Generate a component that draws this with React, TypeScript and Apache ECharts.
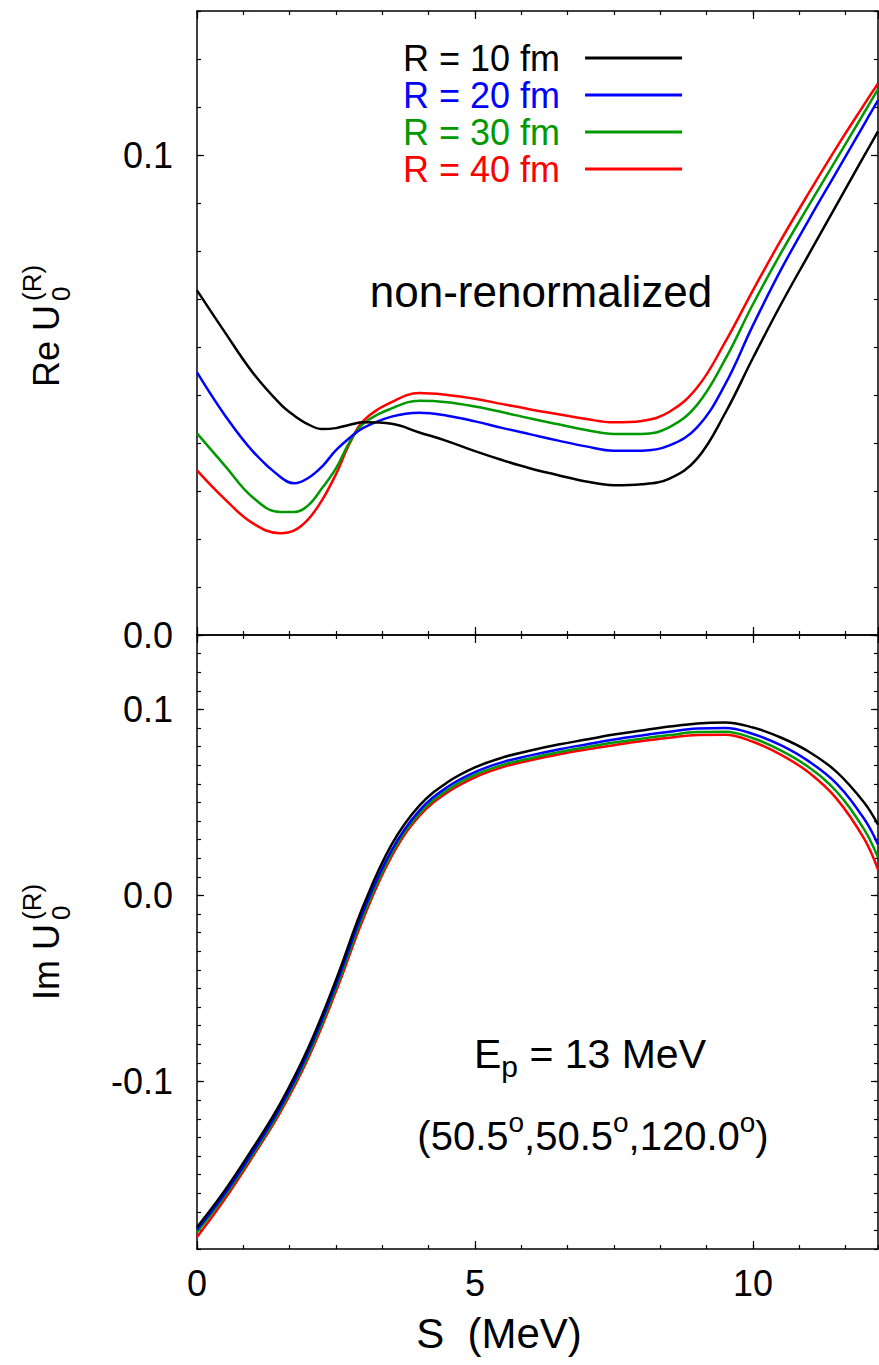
import React, { useEffect, useRef } from 'react';
import * as echarts from 'echarts';

const FONT = '"Liberation Sans", Arial, Helvetica, sans-serif';

// S (MeV) grid for the upper panel (Re U)
const S_RE = [0, 0.5, 1, 1.5, 1.75, 2, 2.25, 2.5, 2.75, 3, 3.5, 4, 4.5, 5, 5.5, 6, 6.5, 7, 7.5, 8, 8.5, 9, 9.5, 10, 10.5, 11, 11.5, 12, 12.25];
const RE_R10 = [0.0718, 0.0631, 0.0547, 0.0481, 0.0457, 0.0439, 0.0429, 0.0431, 0.0438, 0.0443, 0.0440, 0.0422, 0.0404, 0.0383, 0.0364, 0.0347, 0.0333, 0.0320, 0.0312, 0.0314, 0.0326, 0.0368, 0.0462, 0.0577, 0.0688, 0.0792, 0.0895, 0.0998, 0.1049];
const RE_R20 = [0.0547, 0.0458, 0.0383, 0.0329, 0.0316, 0.0327, 0.0351, 0.0385, 0.0411, 0.0432, 0.0455, 0.0463, 0.0457, 0.0445, 0.0431, 0.0418, 0.0405, 0.0393, 0.0384, 0.0384, 0.0395, 0.0433, 0.0522, 0.0645, 0.0760, 0.0864, 0.0964, 0.1064, 0.1114];
const RE_R30 = [0.0420, 0.0353, 0.0287, 0.0256, 0.0256, 0.0270, 0.0306, 0.0347, 0.0403, 0.0441, 0.0472, 0.0488, 0.0485, 0.0476, 0.0464, 0.0451, 0.0439, 0.0427, 0.0419, 0.0419, 0.0433, 0.0480, 0.0574, 0.0689, 0.0795, 0.0894, 0.0991, 0.1088, 0.1137];
const RE_R40 = [0.0343, 0.0283, 0.0233, 0.0212, 0.0218, 0.0241, 0.0281, 0.0335, 0.0400, 0.0447, 0.0485, 0.0504, 0.0500, 0.0492, 0.0481, 0.0470, 0.0460, 0.0450, 0.0443, 0.0446, 0.0465, 0.0516, 0.0610, 0.0718, 0.0822, 0.0920, 0.1015, 0.1105, 0.1149];

// S (MeV) grid for the lower panel (Im U)
const S_IM = [0, 0.5, 1, 1.5, 2, 2.5, 3, 3.5, 4, 4.5, 5, 5.5, 6, 6.5, 7, 7.5, 8, 8.5, 9, 9.5, 10, 10.5, 11, 11.5, 12, 12.25];
const IM_R10 = [-0.1783, -0.1585, -0.1360, -0.1117, -0.0820, -0.0454, -0.0050, 0.0273, 0.0483, 0.0607, 0.0688, 0.0742, 0.0779, 0.0811, 0.0838, 0.0865, 0.0887, 0.0908, 0.0925, 0.0930, 0.0903, 0.0849, 0.0774, 0.0666, 0.0500, 0.0381];
const IM_R20 = [-0.1795, -0.1603, -0.1380, -0.1137, -0.0842, -0.0478, -0.0078, 0.0243, 0.0456, 0.0582, 0.0663, 0.0717, 0.0753, 0.0785, 0.0812, 0.0838, 0.0860, 0.0880, 0.0897, 0.0900, 0.0868, 0.0808, 0.0722, 0.0602, 0.0412, 0.0274];
const IM_R30 = [-0.1810, -0.1615, -0.1393, -0.1152, -0.0860, -0.0498, -0.0100, 0.0225, 0.0440, 0.0566, 0.0648, 0.0702, 0.0738, 0.0770, 0.0797, 0.0822, 0.0843, 0.0862, 0.0878, 0.0880, 0.0845, 0.0780, 0.0690, 0.0560, 0.0355, 0.0204];
const IM_R40 = [-0.1836, -0.1632, -0.1405, -0.1165, -0.0875, -0.0515, -0.0118, 0.0210, 0.0427, 0.0553, 0.0635, 0.0690, 0.0727, 0.0758, 0.0784, 0.0808, 0.0830, 0.0848, 0.0863, 0.0864, 0.0826, 0.0757, 0.0662, 0.0522, 0.0305, 0.0139];

const SERIES_NAMES = ['R = 10 fm', 'R = 20 fm', 'R = 30 fm', 'R = 40 fm'];
const SERIES_COLORS = ['#000000', '#0000ff', '#009900', '#ff0000'];
const RE_SETS = [RE_R10, RE_R20, RE_R30, RE_R40];
const IM_SETS = [IM_R10, IM_R20, IM_R30, IM_R40];

const X_MIN = 0;
const X_MAX = 12.25;
const X_MAJOR = 5;
const X_MINOR = 5 / 6;
const RE_MIN = 0;
const RE_MAX = 0.13;
const IM_MIN = -0.19;
const IM_MAX = 0.14;
const Y_MINOR = 0.01;
const RE_LABELS = [0, 0.1];
const IM_LABELS = [-0.1, 0, 0.1];

const AXIS_COLOR = '#000';

function xAxisPair(gridIndex: number, position: 'top' | 'bottom', labels: boolean) {
  const major = {
    type: 'value', gridIndex, position, min: X_MIN, max: X_MAX, interval: X_MAJOR,
    axisLine: { show: true, onZero: false, lineStyle: { color: AXIS_COLOR, width: 1.5 } },
    axisTick: { show: true, inside: true, length: 8, lineStyle: { color: AXIS_COLOR, width: 1.2 } },
    axisLabel: {
      show: labels, showMaxLabel: false, margin: 16, color: '#000', fontSize: 36, fontFamily: FONT,
      formatter: (v: number) => String(Math.round(v)),
    },
    splitLine: { show: false },
  };
  const minor = {
    type: 'value', gridIndex, position, min: X_MIN, max: X_MAX, interval: X_MINOR,
    axisLine: { show: false, onZero: false },
    axisTick: { show: true, inside: true, length: 4, lineStyle: { color: AXIS_COLOR, width: 1.2 } },
    axisLabel: { show: false },
    splitLine: { show: false },
  };
  return [major, minor];
}

function yAxisPair(gridIndex: number, position: 'left' | 'right', min: number, max: number, labelVals: number[], labels: boolean) {
  const major = {
    type: 'value', gridIndex, position, min, max,
    axisLine: { show: true, onZero: false, lineStyle: { color: AXIS_COLOR, width: 1.5 } },
    axisTick: { show: true, inside: true, length: 7, customValues: labelVals, lineStyle: { color: AXIS_COLOR, width: 1.2 } },
    axisLabel: {
      show: labels, customValues: labelVals, margin: 24, color: '#000', fontSize: 36, fontFamily: FONT,
      formatter: (v: number) => v.toFixed(1),
    },
    splitLine: { show: false },
  };
  const minor = {
    type: 'value', gridIndex, position, min, max, interval: Y_MINOR,
    axisLine: { show: false, onZero: false },
    axisTick: { show: true, inside: true, length: 4, lineStyle: { color: AXIS_COLOR, width: 1.2 } },
    axisLabel: { show: false },
    splitLine: { show: false },
  };
  return [major, minor];
}

function titleGroup(x: number, y: number, main: string, subX: number) {
  return {
    type: 'group', x, y, rotation: Math.PI / 2,
    children: [
      { type: 'text', x: 0, y: 0, style: { text: main, fontSize: 36, fontFamily: FONT, fill: '#000', align: 'left', verticalAlign: 'middle' } },
      { type: 'text', x: subX, y: 15, style: { text: '0', fontSize: 26, fontFamily: FONT, fill: '#000', align: 'left', verticalAlign: 'middle' } },
      { type: 'text', x: subX, y: -14, style: { text: '(R)', fontSize: 26, fontFamily: FONT, fill: '#000', align: 'left', verticalAlign: 'middle' } },
    ],
  };
}

export default function App() {
  const ref = useRef<HTMLDivElement>(null);
  useEffect(() => {
    if (!ref.current) return;
    const chart = echarts.init(ref.current, undefined, { renderer: 'svg' });
    const series: any[] = [];
    SERIES_NAMES.forEach((name, i) => {
      series.push({
        name, type: 'line', xAxisIndex: 0, yAxisIndex: 0, symbol: 'none', showSymbol: false, smooth: 0.4,
        lineStyle: { color: SERIES_COLORS[i], width: 2.5 }, itemStyle: { color: SERIES_COLORS[i] },
        data: S_RE.map((s, k) => [s, RE_SETS[i][k]]), z: 10 - i,
      });
    });
    SERIES_NAMES.forEach((name, i) => {
      series.push({
        name, type: 'line', xAxisIndex: 4, yAxisIndex: 4, symbol: 'none', showSymbol: false, smooth: 0.4,
        lineStyle: { color: SERIES_COLORS[i], width: 2.5 }, itemStyle: { color: SERIES_COLORS[i] },
        data: S_IM.map((s, k) => [s, IM_SETS[i][k]]), z: 10 - i,
      });
    });
    chart.setOption({
      animation: false,
      backgroundColor: '#fff',
      textStyle: { fontFamily: FONT },
      grid: [
        { left: 197, right: 1, top: 11, height: 624 },
        { left: 197, right: 1, top: 635, height: 614 },
      ],
      xAxis: [
        ...xAxisPair(0, 'bottom', false),
        ...xAxisPair(0, 'top', false),
        ...xAxisPair(1, 'bottom', true),
        ...xAxisPair(1, 'top', false),
      ],
      yAxis: [
        ...yAxisPair(0, 'left', RE_MIN, RE_MAX, RE_LABELS, true),
        ...yAxisPair(0, 'right', RE_MIN, RE_MAX, RE_LABELS, false),
        ...yAxisPair(1, 'left', IM_MIN, IM_MAX, IM_LABELS, true),
        ...yAxisPair(1, 'right', IM_MIN, IM_MAX, IM_LABELS, false),
      ],
      legend: {
        orient: 'vertical', left: 398, top: 35, align: 'right', icon: 'rect', itemWidth: 97, itemHeight: 3, itemGap: 1,
        textStyle: { fontSize: 36, fontFamily: FONT },
        formatter: (n: string) => n + '  ',
        data: SERIES_NAMES.map((n, i) => ({ name: n, textStyle: { color: SERIES_COLORS[i] } })),
      },
      graphic: [
        titleGroup(46, 387, 'Re U', 86),
        titleGroup(46, 1000, 'Im U', 80),
        { type: 'text', x: 541, y: 291, style: { text: 'non-renormalized', fontSize: 44, fontFamily: FONT, fill: '#000', align: 'center', verticalAlign: 'middle' } },
        {
          type: 'text', x: 590, y: 1054,
          style: {
            text: '{a|E}{b|p}{a| = 13 MeV}', align: 'center', verticalAlign: 'middle', fontFamily: FONT,
            rich: {
              a: { fontSize: 41, lineHeight: 54, fontFamily: FONT, fill: '#000', color: '#000', verticalAlign: 'middle' },
              b: { fontSize: 30, lineHeight: 30, fontFamily: FONT, fill: '#000', color: '#000', verticalAlign: 'bottom' },
            },
          },
        },
        {
          type: 'text', x: 593, y: 1132,
          style: {
            text: '{a|(50.5}{s|o}{a|,50.5}{s|o}{a|,120.0}{s|o}{a|)}', align: 'center', verticalAlign: 'middle', fontFamily: FONT,
            rich: {
              a: { fontSize: 40, lineHeight: 48, fontFamily: FONT, fill: '#000', color: '#000', verticalAlign: 'bottom' },
              s: { fontSize: 28, lineHeight: 22, fontFamily: FONT, fill: '#000', color: '#000', verticalAlign: 'top' },
            },
          },
        },
        { type: 'text', x: 499, y: 1333, style: { text: 'S  (MeV)', fontSize: 42, fontFamily: FONT, fill: '#000', align: 'center', verticalAlign: 'middle' } },
      ],
      series,
    });
    return () => chart.dispose();
  }, []);
  return <div ref={ref} style={{ position: 'absolute', left: 0, top: 0, width: 879, height: 1365 }} />;
}
